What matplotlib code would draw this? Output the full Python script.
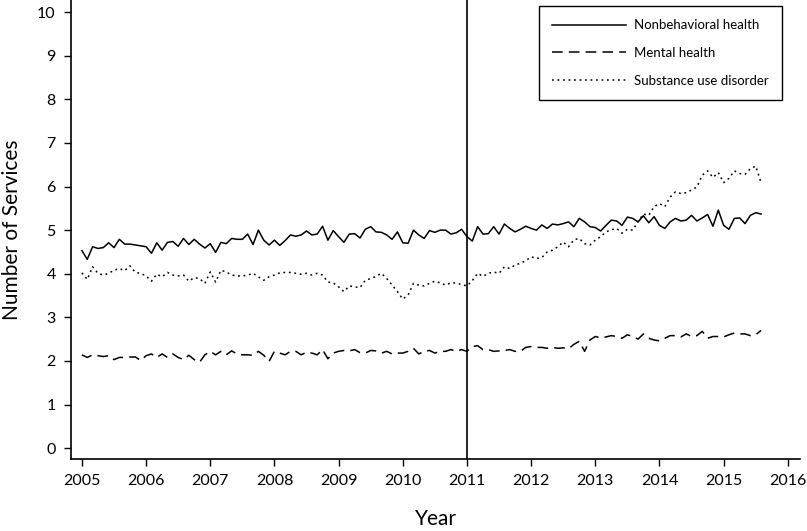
import numpy as np
import matplotlib
matplotlib.use("Agg")
import matplotlib.pyplot as plt

plt.rcParams['font.family'] = ['Lato', 'DejaVu Sans']

# monthly values, Jan 2005 .. Aug 2015
start_year = 2005
nonbehavioral = [
    4.53, 4.33, 4.62, 4.58, 4.60, 4.71, 4.60, 4.79, 4.68, 4.68, 4.66, 4.64,
    4.62, 4.47, 4.71, 4.54, 4.72, 4.74, 4.63, 4.81, 4.67, 4.79, 4.68, 4.59,
    4.69, 4.49, 4.72, 4.69, 4.81, 4.79, 4.79, 4.91, 4.67, 5.00, 4.77, 4.66,
    4.77, 4.65, 4.76, 4.89, 4.86, 4.89, 4.98, 4.89, 4.91, 5.09, 4.77,
    4.99, 4.85, 4.72, 4.91, 4.92, 4.82, 5.02, 5.08, 4.96, 4.95, 4.89, 4.79,
    4.96, 4.71, 4.70, 5.00, 4.89, 4.81, 4.99, 4.95, 5.00, 5.00, 4.91, 4.94,
    5.02, 4.85, 4.75, 5.08, 4.91, 4.92, 5.08, 4.91, 5.14, 5.04, 4.96, 5.02,
    5.09, 5.04, 5.00, 5.12, 5.04, 5.14, 5.12, 5.15,
    5.19, 5.08, 5.27, 5.19, 5.08, 5.06, 4.98, 5.11, 5.23, 5.21, 5.11, 5.30,
    5.27, 5.19, 5.33, 5.17, 5.31, 5.11, 5.04, 5.19, 5.27, 5.21, 5.23, 5.34,
    5.21, 5.28, 5.36, 5.09, 5.46, 5.11, 5.02, 5.27, 5.28, 5.15, 5.34, 5.40,
    5.37,
]
mental = [
    2.14, 2.08, 2.14, 2.12, 2.10, 2.12, 2.03, 2.08, 2.08, 2.09, 2.09, 2.01,
    2.12, 2.16, 2.08, 2.16, 2.08, 2.16, 2.08, 2.03, 2.13, 2.03, 1.97, 2.14,
    2.22, 2.14, 2.22, 2.14, 2.23, 2.16, 2.14, 2.14, 2.13, 2.22, 2.13, 1.99,
    2.22, 2.18, 2.14, 2.22, 2.22, 2.14, 2.20,
    2.18, 2.14, 2.26, 2.05, 2.18, 2.22, 2.24, 2.23, 2.26, 2.19, 2.18, 2.24,
    2.23, 2.18, 2.22, 2.16, 2.18, 2.18, 2.22, 2.29, 2.16, 2.22, 2.24, 2.18,
    2.22, 2.22, 2.26, 2.22, 2.26, 2.22, 2.33, 2.35, 2.26, 2.26, 2.22, 2.23,
    2.24, 2.26, 2.22, 2.22, 2.31, 2.33, 2.31,
    2.31, 2.29, 2.31, 2.29, 2.30, 2.28, 2.38, 2.45, 2.22, 2.48, 2.56, 2.53,
    2.55, 2.58, 2.56, 2.52, 2.60, 2.56, 2.50, 2.62, 2.52, 2.48, 2.46, 2.52,
    2.58, 2.58, 2.55, 2.62, 2.56, 2.58, 2.68, 2.52, 2.56, 2.56, 2.55, 2.60,
    2.64, 2.62, 2.62, 2.58, 2.60, 2.70,
]
substance = [
    4.02, 3.87, 4.16, 4.01, 3.97, 4.01, 4.08, 4.12, 4.07, 4.18, 4.03, 4.01,
    3.95, 3.83, 3.99, 3.93, 4.03, 3.97, 3.95, 3.97, 3.83, 3.91, 3.89, 3.78,
    4.04, 3.81, 4.08, 4.04, 3.97, 3.95, 3.95, 3.97, 4.01, 3.93, 3.85, 3.93,
    3.97, 4.02, 4.03, 4.03, 4.01, 3.99, 4.01, 3.97, 4.01, 3.97, 3.81,
    3.79, 3.70, 3.59, 3.72, 3.70, 3.68, 3.85, 3.89, 3.94, 4.01, 3.89, 3.74,
    3.59, 3.42, 3.51, 3.78, 3.74, 3.72, 3.78, 3.83, 3.79, 3.74, 3.79, 3.79,
    3.75, 3.72, 3.84, 4.01, 3.94, 4.01, 4.04, 4.01, 4.16, 4.12, 4.20, 4.24,
    4.30, 4.39, 4.35, 4.37, 4.50, 4.54, 4.62, 4.73, 4.62,
    4.78, 4.81, 4.69, 4.66, 4.77, 4.85, 4.96, 5.01, 5.04, 4.93, 5.02, 5.00,
    5.20, 5.37, 5.34, 5.54, 5.61, 5.54, 5.76, 5.88, 5.84, 5.86, 5.92, 5.99,
    6.26, 6.36, 6.21, 6.32, 6.09, 6.19, 6.36, 6.30, 6.28, 6.41, 6.47, 6.09,
]
labels = ["Nonbehavioral health", "Mental health", "Substance use disorder"]
year_ticks = list(range(2005, 2017))
cutoff_year = 2011

x = start_year + np.arange(len(nonbehavioral)) / 12.0

fig = plt.figure(figsize=(8.07, 5.31), dpi=100)
ax = fig.add_axes([71 / 807, 1 - 459 / 531, 729 / 807, 459 / 531])

ax.plot(x, nonbehavioral, color='black', lw=1.1, linestyle='-', label=labels[0])
ax.plot(x, mental, color='black', lw=1.1, linestyle=(0, (7, 4)), label=labels[1])
ax.plot(x, substance, color='black', lw=1.1, linestyle=(0, (1.2, 2.4)), label=labels[2])
ax.axvline(cutoff_year, color='black', lw=1.2)

ax.set_xlim(2004.83, 2016.19)
ax.set_ylim(-0.25, 10.28)
ax.set_xticks(year_ticks)
ax.set_yticks(range(0, 11))
ax.spines['top'].set_visible(False)
ax.spines['right'].set_visible(False)
ax.spines['left'].set_linewidth(1.2)
ax.spines['bottom'].set_linewidth(1.2)
ax.tick_params(direction='out', length=5, width=1.0, labelsize=11.5, colors='black', pad=6)

ax.set_xlabel("Year", fontsize=15, labelpad=15)
ax.set_ylabel("Number of Services", fontsize=15, labelpad=11)

leg = ax.legend(loc='upper right', fontsize=9.5, handlelength=5.6,
                handletextpad=0.65, labelspacing=1.2, borderpad=1.0,
                borderaxespad=0, fancybox=False, edgecolor='black', framealpha=1)
leg.get_frame().set_linewidth(1.0)
leg.set_bbox_to_anchor((782 / 807, 1 - 6 / 531), transform=fig.transFigure)

fig.savefig("out.png", dpi=100)
